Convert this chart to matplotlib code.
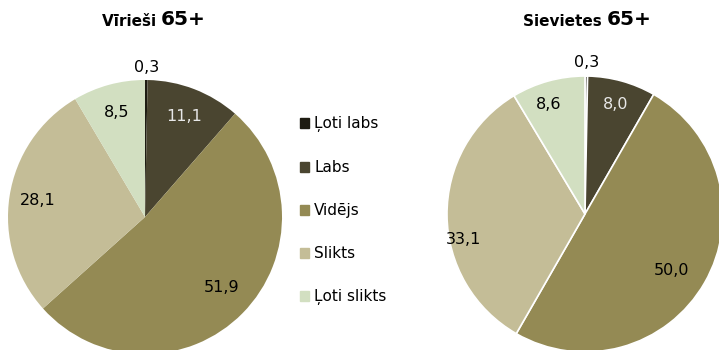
import matplotlib.pyplot as plt
import numpy as np

categories = ['Ļoti labs', 'Labs', 'Vidējs', 'Slikts', 'Ļoti slikts']
men_65 = [0.3, 11.1, 51.9, 28.1, 8.5]
women_65 = [0.3, 8.0, 50.0, 33.1, 8.6]

colors = ['#1e1c12', '#4a4530', '#948a54', '#c4bd97', '#d2dfc1']
label_colors = ['black', '#e8e8e8', 'black', 'black', 'black']

fig = plt.figure(figsize=(7.19, 3.5), dpi=100)


def draw_pie(rect, values, title, title_x, label_r, label_shift, edge):
    ax = fig.add_axes(rect)
    wedges, _ = ax.pie(values, colors=colors, startangle=90, counterclock=False,
                       radius=1, wedgeprops=dict(edgecolor=edge, linewidth=1.2 if edge != 'none' else 0))
    ax.set_xlim(-1, 1)
    ax.set_ylim(-1, 1)
    ax.set_aspect('equal')
    ax.axis('off')

    # value labels along the middle angle of each wedge
    for w, v, r, s, c in zip(wedges, values, label_r, label_shift, label_colors):
        ang = np.deg2rad((w.theta1 + w.theta2) / 2 + s)
        ax.text(r * np.cos(ang), r * np.sin(ang), f'{v:.1f}'.replace('.', ','),
                ha='center', va='center', fontsize=11.5, color=c, clip_on=False)

    fig.text(title_x, 0.94, title.split()[0] + ' ', ha='right', va='center',
             fontsize=11, fontweight='bold')
    fig.text(title_x, 0.945, title.split()[1], ha='left', va='center',
             fontsize=14.5, fontweight='bold')
    return ax


draw_pie([8 / 719, -4 / 350, 274 / 719, 274 / 350], men_65, 'Vīrieši 65+',
         161 / 719, [1.09, 0.79, 0.76, 0.79, 0.79], [0, 0, 2, 0, 0], 'none')
draw_pie([447 / 719, -2 / 350, 276 / 719, 276 / 350], women_65, 'Sievietes 65+',
         607 / 719, [1.1, 0.82, 0.75, 0.9, 0.84], [0, 0, -3, 11.5, 3], 'white')

# legend between the two pies
handles = [plt.Rectangle((0, 0), 1, 1, color=c) for c in colors]
fig.legend(handles, categories, loc='center left', bbox_to_anchor=(286 / 719, 0.398),
           frameon=False, fontsize=11, handlelength=0.6, handleheight=0.6,
           handletextpad=0.35, labelspacing=1.83)

fig.savefig('out.png', dpi=100)
